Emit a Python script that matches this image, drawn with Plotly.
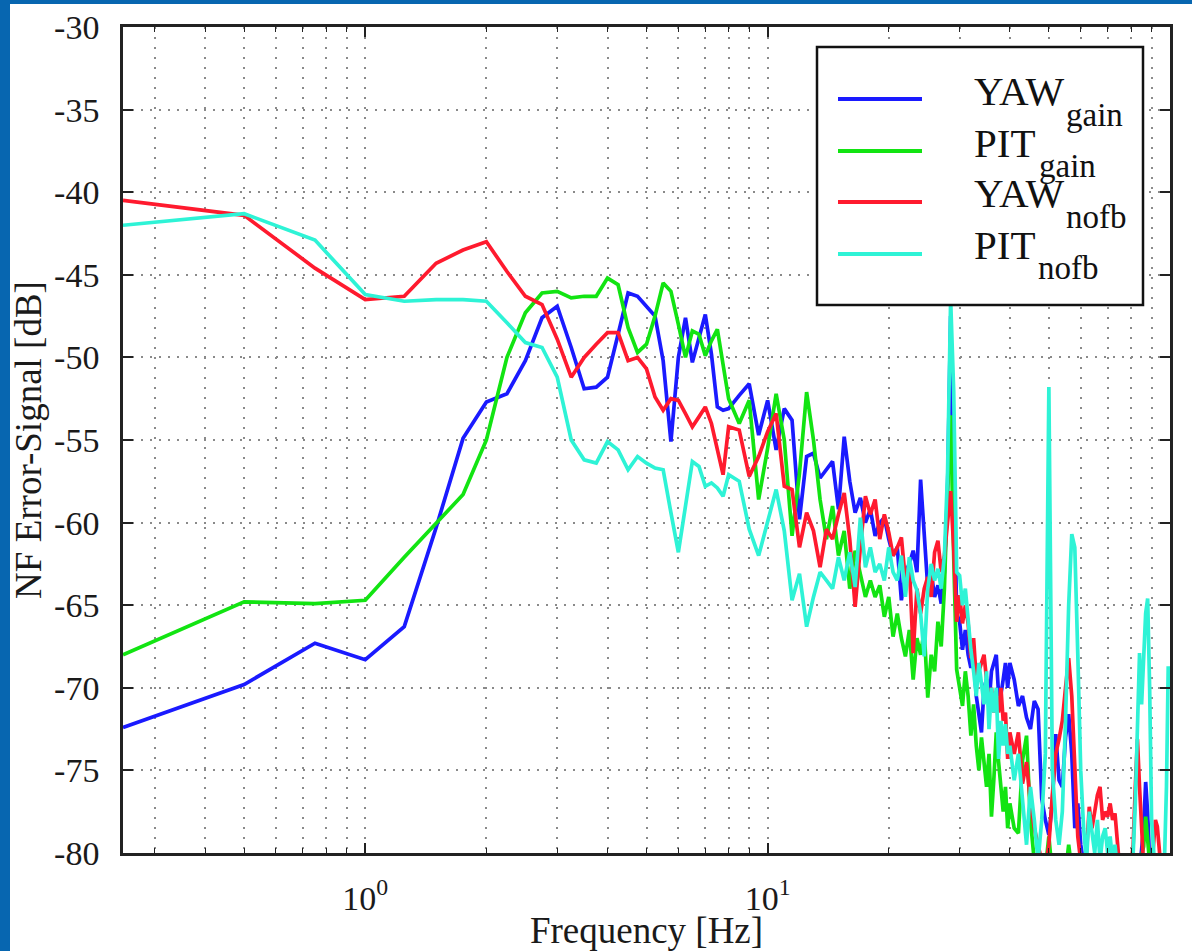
import math
import plotly.graph_objects as go

# ---------------- data ----------------
# frequency bins [Hz]: 0.25 Hz up to 8 Hz, 0.5 Hz up to 40 Hz, 1 Hz up to 100 Hz
freq = ([0.25 * i for i in range(1, 33)]
        + [8.5 + 0.5 * i for i in range(64)]
        + [41 + i for i in range(60)])

yaw_gain = [
    -72.4, -69.8, -67.3, -68.3, -66.3, -60.3, -54.9, -52.7, -52.2, -50.2, -47.6, -46.9, -49.4, -51.9, -51.8, -51.2,
    -48.6, -46.1, -46.3, -46.9, -47.5, -50.2, -55.1, -50.0, -47.6, -50.3, -48.9, -47.4, -49.8, -53.0, -53.2, -53.1,
    -52.3, -51.6, -54.7, -52.6, -55.6, -53.1, -53.8, -59.8, -56.0, -55.8, -57.3, -56.8, -56.3, -59.2, -54.8, -57.5,
    -59.4, -58.5, -60.0, -59.2, -60.8, -60.0, -59.7, -61.0, -62.0, -61.5, -64.7, -63.0, -62.5, -61.7, -63.0, -57.4,
    -60.5, -63.9, -63.0, -64.5, -63.8, -64.9, -63.0, -58.0, -47.5, -56.0, -65.5, -66.0, -67.7, -66.5, -68.0, -68.8,
    -68.0, -70.5, -71.5, -72.7, -70.0, -69.5, -71.0, -69.0, -68.5, -68.0, -70.4, -70.4, -69.5, -68.5, -70.0, -68.5,
    -69.5, -71.1, -70.5, -71.8, -72.5, -70.8, -71.3, -76.7, -78.0, -78.9, -77.0, -72.8, -75.6, -76.0, -73.0, -71.6,
    -74.0, -78.5, -77.0, -79.5, -80.6, -81.0, -80.5, -81.2, -80.4, -81.0, -80.3, -81.5, -80.8, -81.2, -80.5, -81.3,
    -80.6, -81.0, -80.2, -81.4, -80.7, -81.0, -80.5, -81.2, -80.8, -81.3, -80.4, -81.0, -79.8, -78.5, -75.7, -77.6,
    -80.5, -81.2, -80.6, -81.5, -80.8, -81.2, -80.5, -81.0, -80.7, -81.3, -80.6, -81.0,
]

pit_gain = [
    -68.0, -64.8, -64.9, -64.7, -62.1, -60.0, -58.3, -55.0, -50.0, -47.3, -46.1, -46.0, -46.4, -46.3, -46.3, -45.2,
    -45.6, -48.2, -49.7, -49.2, -47.5, -45.5, -46.0, -48.0, -50.0, -48.4, -48.6, -49.9, -49.0, -48.3, -50.5, -52.5,
    -54.0, -52.6, -58.6, -55.5, -52.2, -55.0, -60.8, -57.0, -52.1, -55.0, -58.6, -61.0, -59.0, -62.0, -60.5, -64.0,
    -61.7, -63.0, -64.5, -63.5, -64.5, -63.8, -65.7, -64.5, -66.9, -65.5, -67.0, -68.1, -66.5, -69.5, -67.0, -68.0,
    -66.5, -70.6, -68.0, -69.0, -66.0, -67.5, -64.0, -58.0, -53.5, -62.0, -68.9, -70.0, -71.1, -69.0, -70.5, -72.9,
    -71.0, -73.5, -75.0, -73.0, -74.5, -76.0, -74.0, -77.8, -75.5, -72.7, -74.5, -76.2, -77.5, -76.0, -78.5, -77.0,
    -78.5, -78.8, -74.4, -72.9, -78.0, -80.5, -81.2, -80.4, -81.0, -79.0, -81.3, -80.6, -81.5, -80.8, -81.2, -79.5,
    -81.0, -80.4, -81.3, -80.7, -81.2, -80.6, -81.4, -80.9, -81.3, -80.5, -81.1, -80.7, -81.4, -80.8, -81.2, -80.6,
    -81.3, -80.9, -81.1, -80.5, -81.4, -80.8, -81.2, -80.6, -81.3, -80.9, -81.1, -80.7, -80.2, -79.6, -77.8, -79.5,
    -80.6, -81.2, -80.8, -81.3, -80.7, -81.1, -80.6, -81.2, -80.8, -81.3, -80.9, -81.1,
]

yaw_nofb = [
    -40.5, -41.4, -44.6, -46.5, -46.3, -44.3, -43.5, -43.0, -44.8, -46.3, -46.8, -48.9, -51.2, -50.0, -49.2, -48.5,
    -48.5, -50.2, -50.0, -50.7, -52.4, -53.2, -52.5, -52.6, -53.4, -54.2, -53.6, -53.0, -54.0, -55.5, -57.1, -54.2,
    -54.4, -57.2, -56.0, -54.5, -53.4, -57.8, -58.0, -61.5, -59.4, -60.5, -62.7, -60.4, -61.0, -59.5, -58.2, -61.0,
    -65.1, -61.5, -58.4, -59.5, -58.6, -61.0, -59.5, -60.6, -62.0, -61.5, -60.9, -63.5, -62.5, -67.9, -64.0, -65.5,
    -64.0, -63.3, -64.5, -61.8, -61.1, -63.0, -62.0, -60.0, -58.1, -61.5, -66.0, -64.4, -66.1, -65.0, -66.1, -68.2,
    -67.0, -69.5, -69.0, -68.5, -68.0, -69.5, -71.0, -70.0, -71.5, -70.5, -71.5, -70.0, -72.0, -71.5, -74.3, -72.7,
    -74.0, -72.7, -75.8, -74.5, -77.0, -78.5, -79.5, -80.5, -81.0, -79.5, -76.5, -74.0, -73.1, -72.0, -70.0, -68.2,
    -70.5, -75.4, -79.0, -80.5, -81.0, -80.0, -77.2, -78.5, -77.5, -76.5, -76.0, -78.0, -77.5, -77.8, -77.0, -78.0,
    -77.6, -79.5, -81.0, -80.5, -81.4, -80.9, -81.2, -80.7, -79.5, -76.0, -73.1, -76.0, -79.0, -80.8, -81.2, -80.6,
    -81.3, -80.9, -79.5, -78.0, -78.4, -80.0, -81.0, -80.6, -81.2, -80.8, -81.1, -80.7,
]

pit_nofb = [
    -42.0, -41.3, -42.9, -46.2, -46.6, -46.5, -46.5, -46.6, -47.9, -49.1, -49.4, -51.2, -55.0, -56.2, -56.4, -55.1,
    -55.6, -56.8, -56.0, -56.4, -56.7, -56.8, -59.4, -61.8, -59.0, -56.3, -56.6, -57.8, -57.6, -57.9, -58.4, -57.1,
    -57.5, -60.4, -62.0, -60.0, -58.0, -60.5, -64.7, -63.1, -66.3, -64.5, -63.0, -63.5, -64.0, -62.1, -63.5, -61.8,
    -63.9, -59.7, -62.7, -61.5, -63.0, -62.5, -63.5, -61.5, -63.0, -63.5, -62.0, -64.5, -62.1, -63.5, -64.1, -65.5,
    -68.1, -64.0, -62.5, -63.5, -62.8, -64.0, -62.0, -57.0, -46.5, -52.0, -63.0, -63.2, -65.0, -64.0, -66.0, -67.7,
    -69.0, -70.5, -68.5, -70.0, -71.0, -69.0, -72.5, -70.0, -71.5, -70.0, -74.3, -72.0, -73.5, -72.2, -74.0, -73.5,
    -75.6, -74.0, -77.0, -79.5, -76.0, -78.0, -80.5, -78.0, -74.0, -51.8, -75.0, -78.0, -79.5, -77.5, -72.0, -65.0,
    -60.7, -61.5, -68.0, -75.0, -78.5, -80.5, -77.5, -79.0, -80.0, -78.0, -80.5, -79.0, -78.5, -80.0, -79.0, -80.5,
    -79.5, -81.0, -81.2, -80.8, -81.3, -80.9, -81.2, -80.7, -80.0, -77.0, -73.0, -67.9, -71.0, -68.0, -65.5, -64.6,
    -70.0, -78.0, -80.5, -81.5, -81.0, -81.5, -81.0, -81.2, -80.0, -76.0, -68.7, -70.0,
]

for s in (yaw_gain, pit_gain, yaw_nofb, pit_nofb):
    assert len(s) == len(freq), (len(s), len(freq))

series_names = ["YAW<sub>gain</sub>", "PIT<sub>gain</sub>", "YAW<sub>nofb</sub>", "PIT<sub>nofb</sub>"]
legend_main = ["YAW", "PIT", "YAW", "PIT"]
legend_sub = ["gain", "gain", "nofb", "nofb"]
colors = ["#1a1aff", "#12e412", "#ff1a2e", "#2ef3d6"]

y_ticks = [-30, -35, -40, -45, -50, -55, -60, -65, -70, -75, -80]
y_ticktext = ["-30", "-35", "-40", "-45", "-50", "-55", "-60", "-65", "-70", "-75", "-80"]
x_ticks = [1, 10, 100]
x_ticktext = ["10<sup>0</sup>", "10<sup>1</sup>", "10<sup>2</sup>"]
x_minor = [0.3, 0.4, 0.5, 0.6, 0.7, 0.8, 0.9, 2, 3, 4, 5, 6, 7, 8, 9,
           20, 30, 40, 50, 60, 70, 80, 90]

# ---------------- figure ----------------
W, H = 1192, 951
L, R, T, B = 123, 22, 27, 98
PW, PH = W - L - R, H - T - B


def px_x(px):
    return (px - L) / PW


def px_y(py):
    return 1 - (py - T) / PH


FONT = "Liberation Serif"
TXT = "#1a1a1a"

fig = go.Figure()
for ys, name, col in zip([yaw_gain, pit_gain, yaw_nofb, pit_nofb], series_names, colors):
    fig.add_trace(go.Scatter(x=freq, y=ys, mode="lines", name=name,
                             line=dict(color=col, width=3.7), showlegend=False))

grid_col = "#8a8a8a"
fig.update_layout(
    width=W, height=H,
    margin=dict(l=L, r=R, t=T, b=B, autoexpand=False),
    paper_bgcolor="white", plot_bgcolor="white",
    font=dict(family=FONT, color=TXT, size=33),
    xaxis=dict(
        type="log", range=[math.log10(0.25), 2], automargin=False,
        tickmode="array", tickvals=x_ticks, ticktext=x_ticktext,
        ticks="inside", ticklen=10, tickwidth=1.5, tickcolor="#222",
        showline=True, linewidth=2.5, linecolor="#222", mirror="ticks",
        showgrid=True, gridcolor=grid_col, gridwidth=1.5, griddash="2px,8px",
        zeroline=False, ticklabelstandoff=13,
        tickfont=dict(family=FONT, size=34, color=TXT),
        minor=dict(tickmode="array", tickvals=x_minor, ticks="inside", ticklen=5,
                   tickwidth=1.2, tickcolor="#222", showgrid=True, gridcolor=grid_col,
                   gridwidth=1.5, griddash="2px,8px"),
        title=dict(text="Frequency [Hz]", font=dict(family=FONT, size=37, color=TXT),
                   standoff=0),
    ),
    yaxis=dict(
        range=[-80, -30], automargin=False,
        tickmode="array", tickvals=y_ticks, ticktext=y_ticktext,
        ticks="inside", ticklen=10, tickwidth=1.5, tickcolor="#222",
        showline=True, linewidth=2.5, linecolor="#222", mirror="ticks",
        showgrid=True, gridcolor=grid_col, gridwidth=1.5, griddash="2px,7px",
        zeroline=False, ticklabelstandoff=14,
        tickfont=dict(family=FONT, size=34, color=TXT),
        title=dict(text="NF Error-Signal [dB]", font=dict(family=FONT, size=37, color=TXT),
                   standoff=2),
    ),
)

shapes = []
# slide frame (blue strips at left and top)
frame_col = "#0766b0"
shapes.append(dict(type="rect", xref="paper", yref="paper", x0=px_x(0), x1=px_x(10),
                   y0=px_y(H), y1=px_y(0), fillcolor=frame_col, line=dict(width=0), layer="below"))
shapes.append(dict(type="rect", xref="paper", yref="paper", x0=px_x(0), x1=px_x(W),
                   y0=px_y(4), y1=px_y(0), fillcolor=frame_col, line=dict(width=0), layer="below"))
# legend box
shapes.append(dict(type="rect", xref="paper", yref="paper", x0=px_x(817), x1=px_x(1143),
                   y0=px_y(305), y1=px_y(47), fillcolor="white",
                   line=dict(color="#111", width=2.5), layer="above"))
sample_y = [99, 151, 202, 254]
for yy, col in zip(sample_y, colors):
    shapes.append(dict(type="line", xref="paper", yref="paper", x0=px_x(838), x1=px_x(922),
                       y0=px_y(yy), y1=px_y(yy), line=dict(color=col, width=4), layer="above"))
fig.update_layout(shapes=shapes)

annots = []
main_x = [973, 973, 973, 973]
main_base = [105, 157, 207, 259]
sub_x = [1065, 1038, 1065, 1037]
sub_base = [126, 177, 228, 279]
S_MAIN, S_SUB = 41, 33
for mt, st, mx, mb, sx, sb in zip(legend_main, legend_sub, main_x, main_base, sub_x, sub_base):
    annots.append(dict(text=mt, xref="paper", yref="paper", x=px_x(mx), y=px_y(mb - 0.3375 * S_MAIN),
                       xanchor="left", yanchor="middle", showarrow=False, borderpad=0,
                       font=dict(family=FONT, size=S_MAIN, color="#111")))
    annots.append(dict(text=st, xref="paper", yref="paper", x=px_x(sx), y=px_y(sb - 0.3375 * S_SUB),
                       xanchor="left", yanchor="middle", showarrow=False, borderpad=0,
                       font=dict(family=FONT, size=S_SUB, color="#111")))
fig.update_layout(annotations=annots)

fig.write_html("out.html", config={"displayModeBar": False},
               post_script="document.body.style.margin='0px';")
